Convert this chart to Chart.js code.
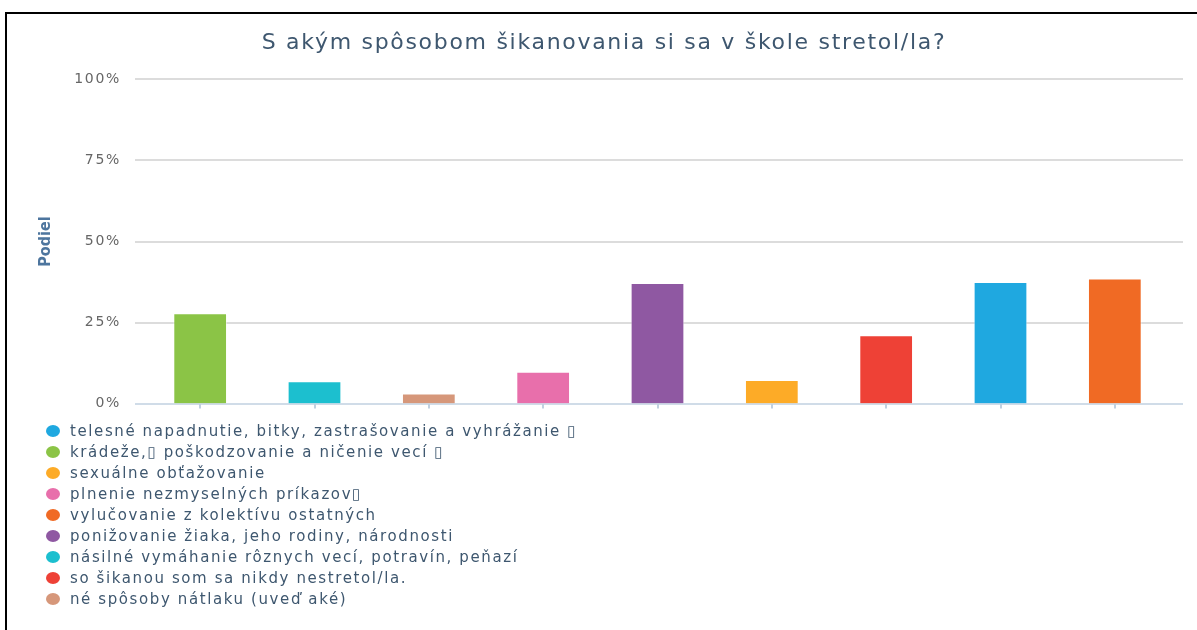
<!DOCTYPE html>
<html lang="sk">
<head>
<meta charset="UTF-8">
<title>S akým spôsobom šikanovania si sa v škole stretol/la?</title>
<script src="https://cdn.jsdelivr.net/npm/chart.js"></script>
<style>
  body { margin: 0; background: #fff; font-family: "DejaVu Sans", sans-serif; }
  .frame { position: absolute; left: 5px; top: 12px; width: 1192px; height: 630px; border-top: 2px solid #000; border-left: 2px solid #000; box-sizing: border-box; }
  .chart-box { position: absolute; left: 0; top: 0; width: 1197px; height: 434px; }
  #legend { position: absolute; left: 46px; top: 421px; list-style: none; margin: 0; padding: 0; }
  #legend li { height: 21px; line-height: 21px; font-size: 15px; letter-spacing: 1.6px; color: #3E576F; white-space: nowrap; }
  #legend .dot { display: inline-block; width: 14px; height: 12px; border-radius: 50%; margin-right: 10px; vertical-align: -1px; }
</style>
</head>
<body>
<div class="frame"></div>
<div class="chart-box"><canvas id="barChart"></canvas></div>
<ul id="legend"></ul>
<script>
// poradie stĺpcov (abecedne)
const categories = [
    "krádeže,▯ poškodzovanie a ničenie vecí ▯",
    "násilné vymáhanie rôznych vecí, potravín, peňazí",
    "né spôsoby nátlaku (uveď aké)",
    "plnenie nezmyselných príkazov▯",
    "ponižovanie žiaka, jeho rodiny, národnosti",
    "sexuálne obťažovanie",
    "so šikanou som sa nikdy nestretol/la.",
    "telesné napadnutie, bitky, zastrašovanie a vyhrážanie ▯",
    "vylučovanie z kolektívu ostatných"
];
const shares = [27.9, 6.9, 3.1, 9.8, 37.2, 7.3, 21.1, 37.5, 38.6];
const barColors = ["#8bc446", "#1cbfcf", "#d6977a", "#e86fab", "#8f58a2", "#fdab27", "#ee4136", "#1fa8e0", "#f06a24"];
// poradie v legende (indexy do categories)
const legendOrder = [7, 0, 5, 3, 8, 4, 1, 6, 2];
const yTicks = [0, 25, 50, 75, 100];

const FONT = '"DejaVu Sans", sans-serif';

// texty v originále sú trochu roztiahnuté
const spacedText = {
    id: 'spacedText',
    beforeLayout(chart) { chart.ctx.letterSpacing = '1.7px'; },
    beforeDraw(chart) { chart.ctx.letterSpacing = '1.7px'; }
};

// mriežka trochu presahuje plochu grafu, ako v originále
const extendedGrid = {
    id: 'extendedGrid',
    beforeDatasetsDraw(chart) {
        const { ctx, chartArea, scales: { y } } = chart;
        const x0 = chartArea.left - 8;
        const x1 = chartArea.right + 11;
        ctx.save();
        y.ticks.forEach(t => {
            const py = Math.round(y.getPixelForValue(t.value));
            ctx.strokeStyle = t.value === 0 ? '#c0d0e0' : '#d0d0d0';
            ctx.lineWidth = 1.6;
            ctx.beginPath();
            ctx.moveTo(x0, py);
            ctx.lineTo(x1, py);
            ctx.stroke();
        });
        ctx.restore();
    }
};

new Chart(document.getElementById('barChart'), {
    type: 'bar',
    data: {
        labels: categories,
        datasets: [{
            label: 'Podiel',
            data: shares,
            backgroundColor: barColors,
            borderColor: 'rgba(255,255,255,0.5)',
            borderWidth: 1,
            categoryPercentage: 1,
            barPercentage: 0.47
        }]
    },
    options: {
        responsive: true,
        maintainAspectRatio: false,
        animation: false,
        layout: { padding: { left: 36, right: 25, top: 0, bottom: 0 } },
        plugins: {
            legend: { display: false },
            tooltip: { enabled: false },
            title: {
                display: true,
                text: 'S akým spôsobom šikanovania si sa v škole stretol/la?',
                color: '#3E576F',
                font: { family: FONT, size: 22, weight: 'normal' },
                padding: { top: 30, bottom: 23 }
            }
        },
        scales: {
            x: {
                grid: { display: true, drawOnChartArea: false, offset: false, drawTicks: true, tickLength: 5, color: '#c0d0e0', lineWidth: 2 },
                border: { display: false },
                ticks: { display: false },
                afterFit(s) { s.height = 8; }
            },
            y: {
                min: 0,
                max: 100,
                afterBuildTicks(s) { s.ticks = yTicks.map(v => ({ value: v })); },
                grid: { display: false, drawTicks: false },
                border: { display: false },
                ticks: {
                    color: '#666',
                    padding: 22,
                    font: { family: FONT, size: 14 },
                    callback: v => v + '%'
                },
                title: {
                    display: true,
                    text: 'Podiel',
                    color: '#4D759E',
                    font: { family: '"Liberation Sans Narrow", "DejaVu Sans Condensed", "DejaVu Sans", sans-serif', size: 16, weight: 'bold' },
                    padding: { top: 0, bottom: 0 }
                },
                afterFit(s) {
                    s.width = 107;
                    // názov osi bez roztiahnutia písmen
                    if (!s._plainTitle) {
                        const drawTitle = s.drawTitle;
                        s.drawTitle = function () {
                            const prev = this.ctx.letterSpacing;
                            this.ctx.letterSpacing = '0px';
                            drawTitle.call(this);
                            this.ctx.letterSpacing = prev;
                        };
                        s._plainTitle = true;
                    }
                }
            }
        }
    },
    plugins: [spacedText, extendedGrid]
});

// legenda pod grafom, jedna položka na riadok
const legendEl = document.getElementById('legend');
legendOrder.forEach(i => {
    const li = document.createElement('li');
    const dot = document.createElement('span');
    dot.className = 'dot';
    dot.style.background = barColors[i];
    li.appendChild(dot);
    li.appendChild(document.createTextNode(categories[i]));
    legendEl.appendChild(li);
});
</script>
</body>
</html>
